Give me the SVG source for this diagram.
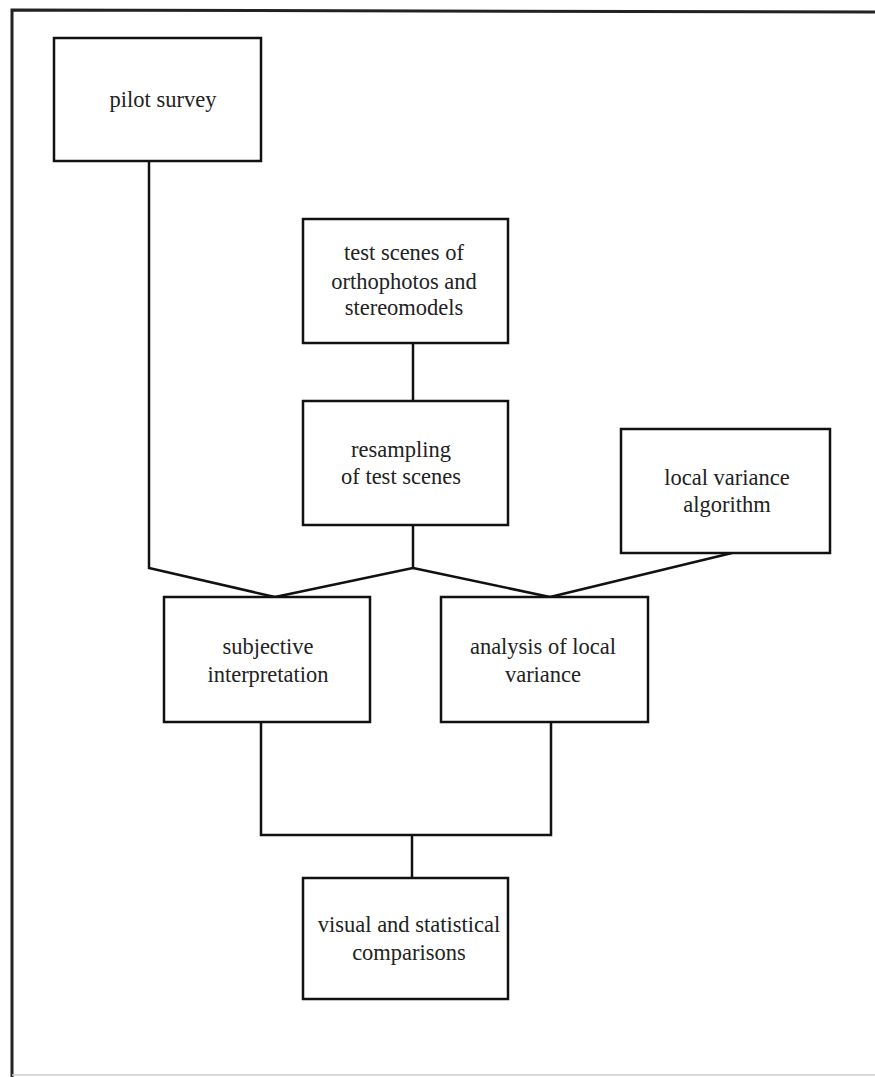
<svg xmlns="http://www.w3.org/2000/svg" width="875" height="1077" viewBox="0 0 875 1077">
<style>
.box{fill:#fff;stroke:#111;stroke-width:2.5}
.lbl{font-family:"Liberation Serif","Times New Roman",serif;font-size:22.5px;fill:#222;text-anchor:middle}
.con{fill:none;stroke:#111;stroke-width:2.5;stroke-linejoin:miter}
</style>
<rect width="875" height="1077" fill="#fff"/>
<g id="frame">
<path d="M12,1077 V10 L875,12" fill="none" stroke="#222" stroke-width="3"/>
<line x1="12" y1="1075" x2="875" y2="1075" stroke="#ccc" stroke-width="1.5"/>
</g>
<g id="connectors">
<path class="con" d="M149,161 V568 L275,597"/>
<path class="con" d="M413,343 V401"/>
<path class="con" d="M413,525 V568 L275,597"/>
<path class="con" d="M413,568 L550,597"/>
<path class="con" d="M732,553 L550,597"/>
<path class="con" d="M261,722 V835 H551 V722"/>
<path class="con" d="M412,835 V878"/>
</g>
<g id="pilot-survey">
<rect class="box" x="54" y="38" width="207" height="123"/>
<text class="lbl" x="163" y="107">pilot survey</text>
</g>
<g id="test-scenes">
<rect class="box" x="303" y="219" width="205" height="124"/>
<text class="lbl" x="404" y="260">test scenes of</text>
<text class="lbl" x="404" y="289">orthophotos and</text>
<text class="lbl" x="404" y="315">stereomodels</text>
</g>
<g id="resampling">
<rect class="box" x="303" y="401" width="205" height="124"/>
<text class="lbl" x="401" y="457">resampling</text>
<text class="lbl" x="401" y="484">of test scenes</text>
</g>
<g id="local-variance-algorithm">
<rect class="box" x="621" y="429" width="209" height="124"/>
<text class="lbl" x="727" y="485">local variance</text>
<text class="lbl" x="727" y="512">algorithm</text>
</g>
<g id="subjective-interpretation">
<rect class="box" x="164" y="597" width="206" height="125"/>
<text class="lbl" x="268" y="654">subjective</text>
<text class="lbl" x="268" y="682">interpretation</text>
</g>
<g id="analysis-local-variance">
<rect class="box" x="441" y="597" width="207" height="125"/>
<text class="lbl" x="543" y="654">analysis of local</text>
<text class="lbl" x="543" y="682">variance</text>
</g>
<g id="visual-statistical">
<rect class="box" x="303" y="878" width="205" height="121"/>
<text class="lbl" x="409" y="932">visual and statistical</text>
<text class="lbl" x="409" y="960">comparisons</text>
</g>
</svg>
